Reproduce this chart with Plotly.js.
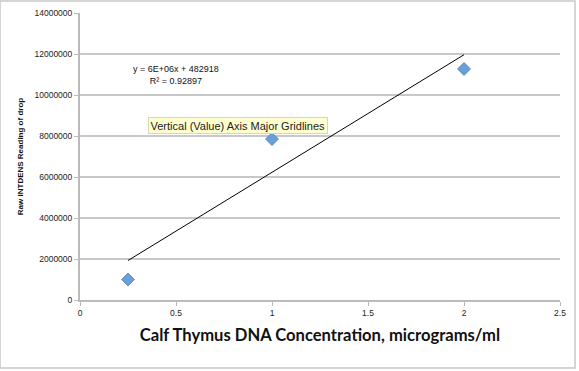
<!DOCTYPE html>
<html><head><meta charset="utf-8">
<script src="https://cdn.plot.ly/plotly-3.0.1.min.js"></script>
<style>html,body{margin:0;padding:0;background:#fff;}#chart{width:579px;height:371px;}</style>
</head><body><div id="chart"></div>
<script>
// Data
const concentration = [0.25, 1, 2];
const rawIntdens = [1000000, 7850000, 11270000];
const equationText = 'y = 6E+06x + 482918<br>R² = 0.92897';
const xTickVals = [0, 0.5, 1, 1.5, 2, 2.5];
const yTickVals = [0, 2000000, 4000000, 6000000, 8000000, 10000000, 12000000, 14000000];

// least-squares fit from the data for the trendline
const n = concentration.length;
const mx = concentration.reduce((a,b)=>a+b,0)/n;
const my = rawIntdens.reduce((a,b)=>a+b,0)/n;
let sxy=0, sxx=0;
for (let i=0;i<n;i++){ sxy+=(concentration[i]-mx)*(rawIntdens[i]-my); sxx+=(concentration[i]-mx)**2; }
const fitSlope = sxy/sxx, fitInt = my - fitSlope*mx;
const trendX = [Math.min(...concentration), Math.max(...concentration)];
const trendY = trendX.map(x => fitSlope*x + fitInt);

const font = "'Liberation Sans', Arial, sans-serif";
const traces = [
  {x: trendX, y: trendY, mode:'lines', line:{color:'#000', width:1}, hoverinfo:'skip'},
  {x: concentration, y: rawIntdens, mode:'markers',
   marker:{symbol:'diamond', size:10, color:'#6b9fd8', line:{color:'#4f81bd', width:0.8}}}
];
const layout = {
  width:579, height:371, showlegend:false,
  margin:{l:80, r:19, t:13, b:71},
  paper_bgcolor:'#fff', plot_bgcolor:'#fff',
  font:{family:font, size:8.5, color:'#222'},
  xaxis:{range:[0,2.5], tickvals:xTickVals, ticktext:xTickVals.map(String),
    showgrid:false, zeroline:false, showline:true, linecolor:'#bbb', linewidth:2,
    ticks:'outside', ticklen:4, tickcolor:'#bbb', tickfont:{size:8.5, family:font},
    title:{text:'<b>Calf Thymus DNA Concentration, micrograms/ml</b>', font:{size:16.6, family:"Lato, 'Open Sans', sans-serif", color:'#111'}, standoff:12}},
  yaxis:{range:[0,14000000], tickvals:yTickVals, ticktext:yTickVals.map(String),
    showgrid:true, gridcolor:'#c8c8c8', gridwidth:2, zeroline:false,
    showline:true, linecolor:'#bbb', linewidth:2, ticks:'outside', ticklen:4, tickcolor:'#bbb',
    tickfont:{size:8.5, family:font},
    title:{text:'<b>Raw INTDENS Reading of drop</b>', font:{size:8, family:font, color:'#111'}, standoff:10}},
  shapes:[{type:'rect', xref:'paper', yref:'paper', x0:-80/480, x1:(575-80)/480, y0:(300-368)/287, y1:(300-1)/287,
    line:{color:'#c8c8c8', width:1.5}, fillcolor:'rgba(0,0,0,0)'}],
  annotations:[
    {xref:'paper', yref:'paper', x:(176-80)/480, y:(300-75)/287, xanchor:'center', yanchor:'middle',
     text:equationText, showarrow:false,
     font:{size:9, family:font, color:'#111'}, align:'center'},
    {xref:'paper', yref:'paper', x:(238-80)/480, y:(300-125.5)/287, xanchor:'center', yanchor:'middle',
     text:'Vertical (Value) Axis Major Gridlines',
     showarrow:false, font:{size:11, family:font, color:'#222'}, bgcolor:'#ffffd0', bordercolor:'#d8d8b0',
     borderwidth:1, borderpad:1.5}
  ]
};
Plotly.newPlot('chart', traces, layout, {displayModeBar:false, staticPlot:true});
</script></body></html>
